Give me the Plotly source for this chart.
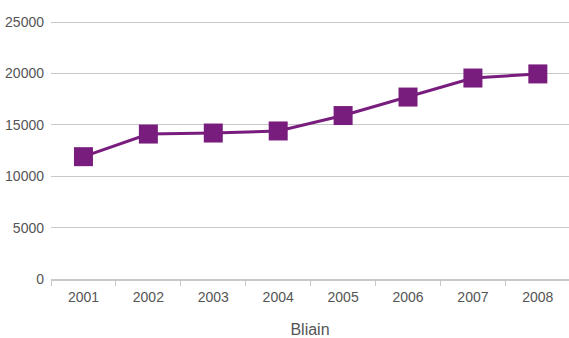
import plotly.graph_objects as go

years = ["2001", "2002", "2003", "2004", "2005", "2006", "2007", "2008"]
values = [11900, 14100, 14200, 14400, 15900, 17700, 19550, 19950]
y_ticks = [0, 5000, 10000, 15000, 20000, 25000]

color = "#781D7D"
grid = "#C8C8C8"
tick_font = dict(family="Liberation Sans, Arial, sans-serif", size=14, color="#555555")

fig = go.Figure(go.Scatter(
    x=years, y=values, mode="lines+markers",
    line=dict(color=color, width=3),
    marker=dict(symbol="square", size=19, color=color),
    cliponaxis=False,
))

fig.update_layout(
    width=569, height=338,
    margin=dict(l=51, r=0, t=20, b=59, autoexpand=False),
    paper_bgcolor="white", plot_bgcolor="white",
    showlegend=False,
    font=dict(family="Liberation Sans, Arial, sans-serif", size=13, color="#555555"),
    xaxis=dict(
        type="category", showgrid=False,
        showline=True, linecolor=grid, linewidth=2,
        ticks="outside", tickson="boundaries", ticklen=5, tickcolor=grid, tickwidth=1,
        tickfont=tick_font,
        ticklabelstandoff=4,
        title=dict(text="Bliain", font=dict(family="Liberation Sans, Arial, sans-serif", size=16, color="#555555"), standoff=25),
        range=[-0.5, 7.48],
        automargin=False,
    ),
    yaxis=dict(
        range=[0, 25195], tickvals=y_ticks, ticktext=[str(v) for v in y_ticks],
        showgrid=True, gridcolor=grid, gridwidth=1,
        zeroline=False, showline=False, ticks="",
        tickfont=tick_font,
        ticklabelstandoff=6,
        automargin=False,
    ),
)

fig.write_html("out.html", config={"displayModeBar": False},
               post_script="document.body.style.margin='0';")
